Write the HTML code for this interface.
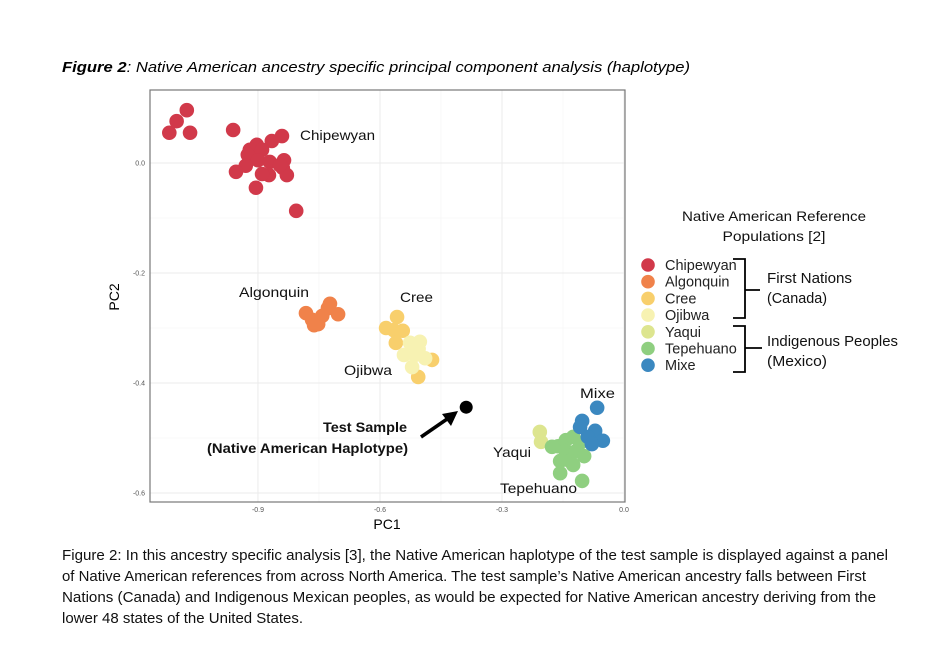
<!DOCTYPE html>
<html><head><meta charset="utf-8"><style>
body{margin:0;background:#fff;width:950px;height:662px;overflow:hidden;font-family:"Liberation Sans",sans-serif}
</style></head><body>
<svg width="950" height="662" xmlns="http://www.w3.org/2000/svg">
<text x="62" y="72" font-size="14.5" font-style="italic" fill="#000" textLength="628" lengthAdjust="spacingAndGlyphs"><tspan font-weight="bold">Figure 2</tspan>: Native American ancestry specific principal component analysis (haplotype)</text>
<g id="plot"></g>
<g id="legend"></g>
<g font-size="14.5" fill="#111">
<text x="62" y="560" textLength="826" lengthAdjust="spacingAndGlyphs">Figure 2: In this ancestry specific analysis [3], the Native American haplotype of the test sample is displayed against a panel</text>
<text x="62" y="581" textLength="804" lengthAdjust="spacingAndGlyphs">of Native American references from across North America. The test sample’s Native American ancestry falls between First</text>
<text x="62" y="602" textLength="814" lengthAdjust="spacingAndGlyphs">Nations (Canada) and Indigenous Mexican peoples, as would be expected for Native American ancestry deriving from the</text>
<text x="62" y="623" textLength="241" lengthAdjust="spacingAndGlyphs">lower 48 states of the United States.</text>
</g>
</svg>
<script>
const groups=["Chipewyan","Algonquin","Cree","Ojibwa","Yaqui","Tepehuano","Mixe"];
const colors=["#d1394a","#f0824a","#f8cf6c","#f7f2b2","#dde58f","#8fcf80","#3b88c0"];
const pc1Chipewyan=[-1.118,-1.100,-1.075,-1.067,-0.961,-0.841,-0.866,-0.903,-0.920,-0.925,-0.890,-0.900,-0.871,-0.836,-0.839,-0.829,-0.873,-0.890,-0.930,-0.954,-0.905,-0.806,-0.846];
const pc2Chipewyan=[0.055,0.076,0.096,0.055,0.060,0.049,0.040,0.033,0.024,0.015,0.024,0.005,0.002,0.005,-0.009,-0.022,-0.022,-0.020,-0.005,-0.016,-0.045,-0.087,-0.004];
const pc1Algonquin=[-0.782,-0.767,-0.752,-0.742,-0.728,-0.723,-0.703,-0.762];
const pc2Algonquin=[-0.273,-0.285,-0.293,-0.278,-0.264,-0.256,-0.275,-0.295];
const pc1Cree=[-0.558,-0.585,-0.566,-0.544,-0.561,-0.472,-0.506];
const pc2Cree=[-0.280,-0.300,-0.304,-0.305,-0.327,-0.358,-0.389];
const pc1Ojibwa=[-0.526,-0.502,-0.541,-0.514,-0.489,-0.521,-0.505];
const pc2Ojibwa=[-0.327,-0.325,-0.349,-0.349,-0.355,-0.371,-0.338];
const pc1Yaqui=[-0.207,-0.204];
const pc2Yaqui=[-0.489,-0.507];
const pc1Tepehuano=[-0.162,-0.143,-0.125,-0.108,-0.143,-0.118,-0.098,-0.133,-0.157,-0.157,-0.125,-0.103,-0.177];
const pc2Tepehuano=[-0.515,-0.504,-0.498,-0.509,-0.524,-0.524,-0.533,-0.542,-0.542,-0.564,-0.549,-0.578,-0.516];
const pc1Mixe=[-0.066,-0.103,-0.108,-0.071,-0.089,-0.052,-0.079];
const pc2Mixe=[-0.445,-0.469,-0.480,-0.487,-0.498,-0.505,-0.511];
const testSample=[-0.388,-0.444];
const xTicks=[-0.9,-0.6,-0.3,0.0];
const yTicks=[0.0,-0.2,-0.4,-0.6];
const xs=[pc1Chipewyan,pc1Algonquin,pc1Cree,pc1Ojibwa,pc1Yaqui,pc1Tepehuano,pc1Mixe];
const ys=[pc2Chipewyan,pc2Algonquin,pc2Cree,pc2Ojibwa,pc2Yaqui,pc2Tepehuano,pc2Mixe];
const NS="http://www.w3.org/2000/svg";
const X=v=>624+v*406.7, Y=v=>163-v*550;
const L=150,R=625,T=90,B=502;
function mk(p,tag,a){const e=document.createElementNS(NS,tag);for(const k in a)e.setAttribute(k,a[k]);p.appendChild(e);return e;}
const plot=document.getElementById('plot');
mk(plot,'rect',{x:L,y:T,width:R-L,height:B-T,fill:'#fff'});
for(let i=0;i<xTicks.length-1;i++){mk(plot,'line',{x1:X((xTicks[i]+xTicks[i+1])/2),x2:X((xTicks[i]+xTicks[i+1])/2),y1:T,y2:B,stroke:'#f3f3f3','stroke-width':0.6});}
for(let i=0;i<yTicks.length-1;i++){mk(plot,'line',{y1:Y((yTicks[i]+yTicks[i+1])/2),y2:Y((yTicks[i]+yTicks[i+1])/2),x1:L,x2:R,stroke:'#f3f3f3','stroke-width':0.6});}
xTicks.forEach(t=>{const g=mk(plot,'line',{x1:X(t),x2:X(t),y1:T,y2:B,stroke:'#ebebeb','stroke-width':1});

const tx=mk(plot,'text',{x:X(t),y:B+10,'font-size':7,fill:'#555','text-anchor':'middle'});tx.textContent=t.toFixed(1);
});
yTicks.forEach(t=>{const g=mk(plot,'line',{y1:Y(t),y2:Y(t),x1:L,x2:R,stroke:'#ebebeb','stroke-width':1});

const tx=mk(plot,'text',{x:L-5,y:Y(t)+2.5,'font-size':7,fill:'#555','text-anchor':'end'});tx.textContent=t.toFixed(1);
});
const fr=mk(plot,'rect',{x:L,y:T,width:R-L,height:B-T,fill:'none',stroke:'#777','stroke-width':1.2});

xs.forEach((arr,g)=>arr.forEach((v,i)=>{const c=mk(plot,'circle',{cx:X(v),cy:Y(ys[g][i]),r:7.3,fill:colors[g]});
}));
const ts=mk(plot,'circle',{cx:X(testSample[0]),cy:Y(testSample[1]),r:6.5,fill:'#000'});

const ar=mk(plot,'line',{x1:421,y1:437,x2:450,y2:417,stroke:'#000','stroke-width':3.5});

const ah=mk(plot,'polygon',{points:'458,411 442,414 451,426',fill:'#000'});

const labels=[["Chipewyan",300,140,'normal',75],["Algonquin",239,297,'normal',70],["Cree",400,302,'normal',33],["Ojibwa",344,375,'normal',48],["Mixe",580,398,'normal',35],["Yaqui",493,457,'normal',38],["Tepehuano",500,493,'normal',77],["Test Sample",323,432,'bold',84],["(Native American Haplotype)",207,453,'bold',201]];
labels.forEach(l=>{const t=mk(plot,'text',{x:l[1],y:l[2],'font-size':14,'font-weight':l[3],fill:'#111',textLength:l[4],lengthAdjust:'spacingAndGlyphs'});t.textContent=l[0];
});
const xl=mk(plot,'text',{x:387,y:529,'font-size':14,'text-anchor':'middle',fill:'#000'});xl.textContent='PC1';

const yl=mk(plot,'text',{x:0,y:0,'font-size':14,'text-anchor':'middle',fill:'#000',transform:'translate(119,297) rotate(-90)'});yl.textContent='PC2';

const leg=document.getElementById('legend');
[["Native American Reference",774,221,184],["Populations [2]",774,241,103]].forEach(a=>{const t=mk(leg,'text',{x:a[1],y:a[2],'font-size':14,'text-anchor':'middle',fill:'#111',textLength:a[3],lengthAdjust:'spacingAndGlyphs'});t.textContent=a[0];
});
groups.forEach((gname,i)=>{const y=265+i*16.7;
const c=mk(leg,'circle',{cx:648,cy:y,r:6.8,fill:colors[i]});
const t=mk(leg,'text',{x:665,y:y+5,'font-size':14.5,fill:'#222'});t.textContent=gname;
});
const b1=mk(leg,'path',{d:'M733,259 H745 V318 H733 M745,290 H760',stroke:'#000','stroke-width':1.8,fill:'none'});

const b2=mk(leg,'path',{d:'M733,326 H745 V372 H733 M745,348 H762',stroke:'#000','stroke-width':1.8,fill:'none'});

[["First Nations",767,283,85],["(Canada)",767,303,60],["Indigenous Peoples",767,346,131],["(Mexico)",767,366,60]].forEach(a=>{const t=mk(leg,'text',{x:a[1],y:a[2],'font-size':14.5,fill:'#111',textLength:a[3],lengthAdjust:'spacingAndGlyphs'});t.textContent=a[0];
});
</script>
</body></html>
